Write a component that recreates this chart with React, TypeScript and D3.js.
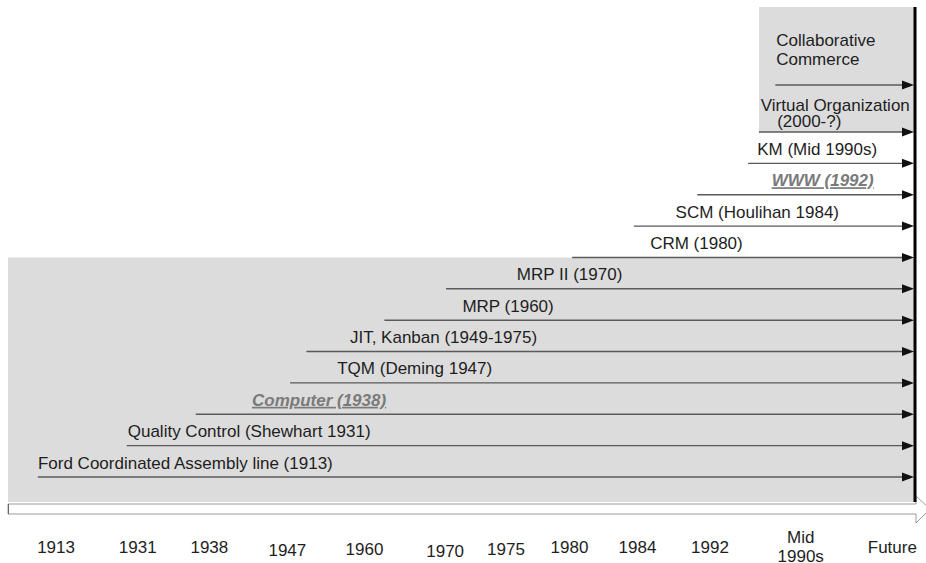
import React from "react";
import * as d3 from "d3";

// rows, bottom (Ford) to top (Collaborative Commerce)
const rowNames = [
  "Ford", "QC", "Computer", "TQM", "JIT", "MRP", "MRP II",
  "CRM", "SCM", "WWW", "KM", "Virtual", "Collaborative",
];
const rowLevel = [0, 1, 2, 3, 4, 5, 6, 7, 8, 9, 10, 11, 12.5];
// where each arrow starts on the timeline (0..100)
const rowStart = [3.3, 13.1, 20.7, 31.1, 32.9, 41.5, 48.3, 62.2, 69.0, 76.0, 81.6, 82.8, 84.6];
const labelLines = [
  ["Ford Coordinated Assembly line (1913)"],
  ["Quality Control (Shewhart 1931)"],
  ["Computer (1938)"],
  ["TQM (Deming 1947)"],
  ["JIT, Kanban (1949-1975)"],
  ["MRP (1960)"],
  ["MRP II (1970)"],
  ["CRM (1980)"],
  ["SCM (Houlihan 1984)"],
  ["WWW (1992)"],
  ["KM (Mid 1990s)"],
  ["Virtual Organization", "(2000-?)"],
  ["Collaborative", "Commerce"],
];
const labelLeft = [
  [3.3], [13.2], [26.9], [36.3], [37.7], [50.1], [56.1],
  [70.8], [73.6], [84.2], [82.6], [83.0, 84.8], [84.7, 84.7],
];
const emphasized = ["Computer", "WWW"];

const tickLabels = [
  ["1913"], ["1931"], ["1938"], ["1947"], ["1960"], ["1970"], ["1975"],
  ["1980"], ["1984"], ["1992"], ["Mid", "1990s"], ["Future"],
];
const tickPos = [5.3, 14.3, 22.2, 30.8, 39.3, 48.2, 54.9, 61.9, 69.4, 77.4, 87.4, 97.5];
const tickDrop = [0, 0, 0, 3, 2, 4, 2, 0, 0, 0, 0, 0];

const W = 926, H = 563;
const FONT = "'Liberation Sans', Arial, sans-serif";
const FS = 17;

export default function App() {
  const x = d3.scaleLinear().domain([0, 100]).range([8, 915]);
  const y = d3.scaleLinear().domain([0, 11]).range([477, 132]);
  const xEnd = x(100);

  const lowerTop = y(7);
  const bottom = 502;
  const upperTop = 7;

  const arrowBody = d3.path();
  arrowBody.moveTo(8, 504);
  arrowBody.lineTo(916, 504);
  arrowBody.lineTo(916, 496);
  arrowBody.lineTo(930, 509);
  arrowBody.lineTo(916, 523);
  arrowBody.lineTo(916, 514);
  arrowBody.lineTo(8, 514);
  arrowBody.closePath();

  return (
    <svg width={W} height={H} style={{ position: "absolute", left: 0, top: 0, background: "#fff" }}
      fontFamily={FONT}>
      {/* shaded regions */}
      <rect x={x(0)} y={lowerTop} width={xEnd - x(0)} height={bottom - lowerTop} fill="#dcdcdc" />
      <rect x={x(rowStart[11])} y={upperTop} width={xEnd - x(rowStart[11])} height={y(11) - upperTop} fill="#dcdcdc" />

      {/* timeline arrow */}
      <path d={arrowBody.toString()} fill="#fff" stroke="#9a9a9a" strokeWidth={1} />
      <line x1={8.5} x2={8.5} y1={504} y2={514} stroke="#666" strokeWidth={1} />

      {rowNames.map((name, i) => {
        const ly = y(rowLevel[i]);
        const special = emphasized.includes(name);
        const lines = labelLines[i];
        const n = lines.length;
        const gap = name === "Collaborative" ? 19 : 16.5;
        const base = name === "Virtual" ? ly - 5 : name === "Collaborative" ? ly - 20 : ly - 8.5;
        return (
          <g key={name}>
            <line x1={x(rowStart[i])} x2={xEnd - 10} y1={ly} y2={ly} stroke="#5a5a5a" strokeWidth={1.4} />
            <path d={`M${xEnd - 13},${ly - 4.5}L${xEnd - 1},${ly}L${xEnd - 13},${ly + 4.5}Z`} fill="#111" />
            {lines.map((t, k) => (
              <text key={k} x={x(labelLeft[i][k])} y={base - (n - 1 - k) * gap}
                fontSize={FS}
                fill={special ? "#7a7a7a" : "#1e1e1e"}
                fontWeight={special ? "bold" : "normal"}
                fontStyle={special ? "italic" : "normal"}
                textDecoration={special ? "underline" : "none"}>
                {t}
              </text>
            ))}
          </g>
        );
      })}

      {/* now / future boundary */}
      <line x1={xEnd} x2={xEnd} y1={upperTop} y2={bottom} stroke="#000" strokeWidth={3} />

      {/* tick labels */}
      {tickLabels.map((lbl, i) => (
        <text key={i} x={x(tickPos[i])} y={lbl.length > 1 ? 543 : 553 + tickDrop[i]}
          textAnchor="middle" fontSize={FS} fill="#1e1e1e">
          {lbl.map((t, k) => (
            <tspan key={k} x={x(tickPos[i])} dy={k === 0 ? 0 : 19}>{t}</tspan>
          ))}
        </text>
      ))}
    </svg>
  );
}
